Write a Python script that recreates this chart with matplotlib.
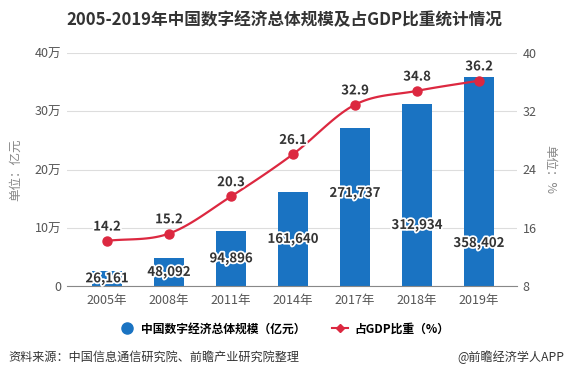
import matplotlib
matplotlib.use("Agg")
import matplotlib.pyplot as plt
import numpy as np
from matplotlib.lines import Line2D
import matplotlib.patheffects as pe

plt.rcParams['font.family'] = ['Noto Sans CJK SC', 'DejaVu Sans']

years = ['2005年', '2008年', '2011年', '2014年', '2017年', '2018年', '2019年']
scale = [26161, 48092, 94896, 161640, 271737, 312934, 358402]
share = [14.2, 15.2, 20.3, 26.1, 32.9, 34.8, 36.2]

BLUE = '#1a73c2'
RED = '#dc2840'
GRAY = '#555555'


def smooth(x, y, n=20):
    # Catmull-Rom curve through the points
    x = np.asarray(x, float)
    y = np.asarray(y, float)
    px = np.concatenate([[2 * x[0] - x[1]], x, [2 * x[-1] - x[-2]]])
    py = np.concatenate([[2 * y[0] - y[1]], y, [2 * y[-1] - y[-2]]])
    xs, ys = [], []
    t = np.linspace(0, 1, n)
    for i in range(1, len(px) - 2):
        for p, out in ((px, xs), (py, ys)):
            p0, p1, p2, p3 = p[i - 1], p[i], p[i + 1], p[i + 2]
            out.extend(0.5 * (2 * p1 + (-p0 + p2) * t
                              + (2 * p0 - 5 * p1 + 4 * p2 - p3) * t ** 2
                              + (-p0 + 3 * p1 - 3 * p2 + p3) * t ** 3))
    return np.array(xs), np.array(ys)


fig = plt.figure(figsize=(5.68, 3.86), dpi=100)
ax = fig.add_axes([67 / 568, 100 / 386, 450 / 568, 233 / 386])
x = np.arange(len(years))

ax.bar(x, scale, width=0.48, color=BLUE, zorder=2)
ax.set_ylim(0, 400000)
ax.set_xlim(-0.645, 6.613)
ax.set_yticks([0, 100000, 200000, 300000, 400000])
ax.set_yticklabels(['0', '10万', '20万', '30万', '40万'])
ax.set_xticks(x)
ax.set_xticklabels(years)
ax.grid(axis='y', color='#dddddd', linewidth=0.8, zorder=0)
for s in ['top', 'right', 'left']:
    ax.spines[s].set_visible(False)
ax.spines['bottom'].set_color('#888888')
ax.tick_params(axis='both', length=0, labelsize=9, colors=GRAY, pad=6)
ax.tick_params(axis='y', pad=4)
ax.set_ylabel('单位：亿元', color='#888888', fontsize=9, labelpad=9)

# label heights for bar values (shifted on the last bars)
label_y = [scale[0] / 2, scale[1] / 2, scale[2] / 2, scale[3] / 2, 159700, 104700, 73800]
for xi, v, ly in zip(x, scale, label_y):
    ax.text(xi, ly, f'{v:,}', ha='center', va='center', fontsize=9.5, fontweight='bold',
            color='#333333', zorder=5,
            path_effects=[pe.withStroke(linewidth=2.5, foreground='white')])

ax2 = ax.twinx()
ax2.set_ylim(8, 40)
ax2.set_yticks([8, 16, 24, 32, 40])
for s in ['top', 'right', 'left', 'bottom']:
    ax2.spines[s].set_visible(False)
ax2.tick_params(axis='y', length=0, labelsize=9, colors=GRAY, pad=4)
ax2.set_ylabel('单位：%', color='#888888', fontsize=9, rotation=270, labelpad=14)

sx, sy = smooth(x, share)
ax2.plot(sx, sy, color=RED, linewidth=1.6, zorder=3)
ax2.plot(x, share, 'o', color=RED, markersize=6.5, zorder=4)
for xi, v in zip(x, share):
    ax2.text(xi, v + 1.0, f'{v}', ha='center', va='bottom', fontsize=9.5, fontweight='bold',
             color='#333333', zorder=5,
             path_effects=[pe.withStroke(linewidth=2.5, foreground='white')])

fig.text(0.5, 1 - 20 / 386, '2005-2019年中国数字经济总体规模及占GDP比重统计情况',
         ha='center', va='center', fontsize=12, fontweight='bold', color='#333333')

handles = [Line2D([], [], marker='o', color=BLUE, linestyle='none', markersize=8),
           Line2D([], [], marker='D', color=RED, linewidth=1.5, markersize=4)]
fig.legend(handles, ['中国数字经济总体规模（亿元）', '占GDP比重（%）'],
           loc='center', bbox_to_anchor=(0.5, 1 - 329 / 386), ncol=2, frameon=False,
           prop={'size': 8.5, 'weight': 'bold'}, handlelength=1.4, columnspacing=2.2,
           handletextpad=0.5)

fig.text(8 / 568, 1 - 357 / 386, '资料来源：中国信息通信研究院、前瞻产业研究院整理',
         ha='left', va='center', fontsize=8.7, color='#333333')
fig.text(564 / 568, 1 - 357 / 386, '@前瞻经济学人APP',
         ha='right', va='center', fontsize=8.7, color='#333333')

fig.savefig('out.png', dpi=100)
